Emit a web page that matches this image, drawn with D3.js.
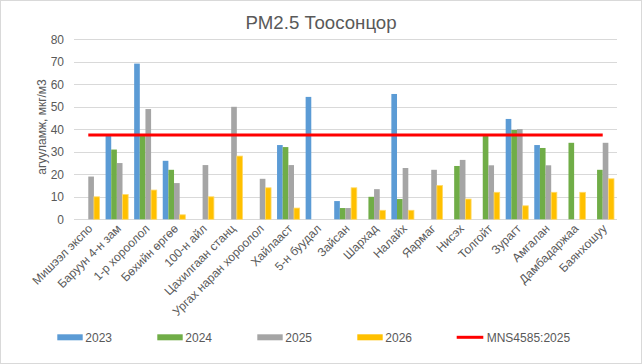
<!DOCTYPE html>
<html>
<head>
<meta charset="utf-8">
<script src="https://cdn.jsdelivr.net/npm/d3@7/dist/d3.min.js"></script>
<style>
  html, body { margin: 0; padding: 0; background: #fff; }
  svg { display: block; font-family: "Liberation Sans", Arial, sans-serif; }
</style>
</head>
<body>
<svg id="chart" width="642" height="364"></svg>
<script>
const categories = ["Мишээл экспо", "Баруун 4-н зам", "1-р хороолол", "Бөхийн өргөө", "100-н айл",
  "Цахилгаан станц", "Ургах наран хороолол", "Хайлааст", "5-н буудал", "Зайсан", "Шархад",
  "Налайх", "Яармаг", "Нисэх", "Толгойт", "Зурагт", "Амгалан", "Дамбадаржаа", "Баянхошуу"];
const seriesNames = ["2023", "2024", "2025", "2026"];
const values2023 = [null, 37, 69.2, 26, null, null, null, 33, 54.4, 8.1, null, 55.7, null, null, null, 44.6, 33, null, null];
const values2024 = [null, 31, 37, 22, null, null, null, 32.1, null, 5, 10, 9, null, 23.7, 37, 39.7, 31.7, 34, 22];
const values2025 = [19, 25, 49, 16.1, 24.1, 50, 18, 24.1, null, 5, 13.4, 22.8, 22, 26.4, 24, 40.1, 24, null, 34];
const values2026 = [10, 11, 13, 2, 10, 28.1, 14, 5, null, 14, 4, 4, 15, 9, 12, 6, 12, 12, 18];
const standardName = "MNS4585:2025";
const standardValue = 37.5;
const yTicks = [0, 10, 20, 30, 40, 50, 60, 70, 80];
const titleText = "PM2.5 Тоосонцор";
const yTitle = "агууламж, мкг/м3";

const colors = { "2023": "#5B9BD5", "2024": "#70AD47", "2025": "#A5A5A5", "2026": "#FFC000" };
const redColor = "#FF0000";
const textColor = "#595959";

const svg = d3.select("#chart");
const W = 642, H = 364;
const plot = { left: 74, right: 617, top: 39.3, bottom: 219.3 };

// outer border
svg.append("rect").attr("x", 0.5).attr("y", 0.5).attr("width", W - 1).attr("height", H - 1)
  .attr("fill", "#fff").attr("stroke", "#D9D9D9").attr("stroke-width", 1);

const x0 = d3.scaleBand().domain(categories).range([plot.left, plot.right]).paddingInner(0).paddingOuter(0);
const y = d3.scaleLinear().domain([0, 80]).range([plot.bottom, plot.top]);
const groupPad = 3;
const x1 = d3.scaleBand().domain(seriesNames).range([groupPad, x0.bandwidth() - groupPad]).padding(0);

// gridlines
svg.append("g").selectAll("line").data(yTicks).join("line")
  .attr("x1", plot.left).attr("x2", plot.right)
  .attr("y1", d => Math.round(y(d)) + 0.5).attr("y2", d => Math.round(y(d)) + 0.5)
  .attr("stroke", "#D9D9D9").attr("stroke-width", 1);

// y axis labels
const yAxis = d3.axisLeft(y).tickValues(yTicks).tickSize(0).tickPadding(0);
const gy = svg.append("g").attr("transform", `translate(64,0)`).call(yAxis);
gy.select(".domain").remove();
gy.selectAll("text").attr("fill", textColor).attr("font-size", 12).attr("x", 0)
  .attr("font-family", "Liberation Sans, Arial, sans-serif");

// bars
const seriesData = [values2023, values2024, values2025, values2026];
const barData = [];
categories.forEach((c, i) => {
  seriesNames.forEach((s, j) => {
    const v = seriesData[j][i];
    if (v != null) barData.push({ cat: c, series: s, value: v });
  });
});
svg.append("g").selectAll("rect").data(barData).join("rect")
  .attr("x", d => x0(d.cat) + x1(d.series))
  .attr("y", d => y(d.value))
  .attr("width", x1.bandwidth())
  .attr("height", d => y(0) - y(d.value))
  .attr("fill", d => colors[d.series])
  .attr("stroke", d => d.series === "2026" ? "#FFD966" : "none")
  .attr("stroke-width", 0.8);

// standard line
const line = d3.line().x(d => x0(d) + x0.bandwidth() / 2).y(() => y(standardValue));
svg.append("path").datum(categories).attr("d", line)
  .attr("fill", "none").attr("stroke", redColor).attr("stroke-width", 3);

// x labels
const xAxis = d3.axisBottom(x0).tickSize(0).tickPadding(0);
const gx = svg.append("g").attr("transform", `translate(0,${plot.bottom})`).call(xAxis);
gx.select(".domain").remove();
gx.selectAll("text")
  .attr("fill", textColor).attr("font-size", 12)
  .attr("font-family", "Liberation Sans, Arial, sans-serif")
  .attr("text-anchor", "end")
  .attr("y", 0).attr("dy", 0)
  .attr("transform", "translate(5,10) rotate(-45)");

// title
svg.append("text").attr("x", 321).attr("y", 28.5).attr("text-anchor", "middle")
  .attr("fill", textColor).attr("font-size", 18.67).text(titleText);

// y title
svg.append("text").attr("transform", "translate(46,127) rotate(-90)").attr("text-anchor", "middle")
  .attr("fill", textColor).attr("font-size", 12).text(yTitle);

// legend
const legendItems = seriesNames.map(s => ({ name: s, type: "bar" })).concat([{ name: standardName, type: "line" }]);
const legX = d3.scaleLinear().domain([0, 1]).range([57.3, 157.3]);
const lg = svg.append("g").selectAll("g").data(legendItems).join("g")
  .attr("transform", (d, i) => `translate(${i < 4 ? legX(i) : legX(i) - 0.6},337.3)`);
lg.filter(d => d.type === "bar").append("rect")
  .attr("x", 0).attr("y", -3).attr("width", 25.4).attr("height", 6)
  .attr("fill", d => colors[d.name]);
lg.filter(d => d.type === "line").append("line")
  .attr("x1", 0).attr("x2", 26.6).attr("y1", 0).attr("y2", 0)
  .attr("stroke", redColor).attr("stroke-width", 3);
lg.append("text").attr("x", d => d.type === "line" ? 30 : 28).attr("y", 0).attr("dy", "0.35em")
  .attr("fill", textColor).attr("font-size", 12).text(d => d.name);
</script>
</body>
</html>
